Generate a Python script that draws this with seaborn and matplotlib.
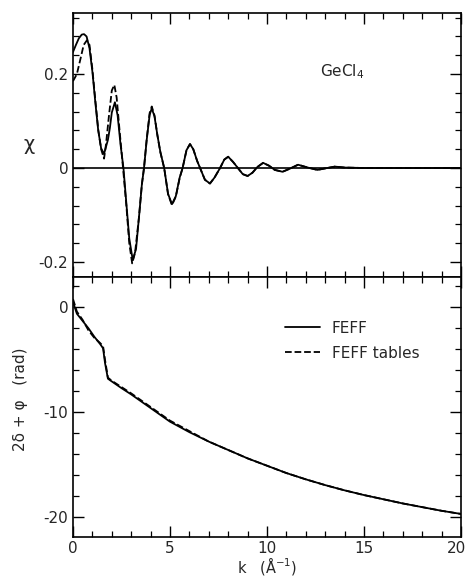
import numpy as np
import pandas as pd
import matplotlib
matplotlib.use("Agg")
import matplotlib.pyplot as plt
from matplotlib.ticker import MultipleLocator, FixedLocator, FixedFormatter
from matplotlib.transforms import ScaledTranslation
import seaborn as sns

k_chi_feff = [0.0, 0.15, 0.3, 0.45, 0.57, 0.7, 0.85, 1.0, 1.15, 1.3, 1.45, 1.6, 1.7, 1.8, 1.9, 2.0,
              2.16, 2.3, 2.45, 2.6, 2.75, 2.9, 3.08, 3.25, 3.4, 3.55, 3.66, 3.8, 3.95, 4.06, 4.2,
              4.35, 4.5, 4.7, 4.9, 5.1, 5.3, 5.5, 5.65, 5.85, 6.03, 6.2, 6.4, 6.55, 6.8, 7.06,
              7.3, 7.58, 7.8, 8.0, 8.25, 8.5, 8.75, 9.0, 9.25, 9.5, 9.8, 10.1, 10.4, 10.8, 11.2,
              11.6, 12.1, 12.6, 13.1, 13.5, 14.0, 15.0, 20.0]
chi_feff = [0.247, 0.262, 0.276, 0.284, 0.285, 0.28, 0.255, 0.205, 0.14, 0.08, 0.042, 0.03, 0.045,
            0.06, 0.085, 0.118, 0.14, 0.112, 0.05, 0.0, -0.075, -0.15, -0.196, -0.172, -0.105,
            -0.035, 0.0, 0.06, 0.113, 0.127, 0.11, 0.07, 0.035, 0.0, -0.055, -0.077, -0.06,
            -0.02, 0.0, 0.038, 0.051, 0.04, 0.015, 0.0, -0.025, -0.033, -0.02, 0.0, 0.018,
            0.024, 0.013, 0.0, -0.013, -0.017, -0.01, 0.002, 0.011, 0.005, -0.004, -0.008,
            -0.001, 0.007, 0.001, -0.004, 0.0, 0.003, 0.001, 0.0, 0.0]

k_chi_tab = [0.0, 0.2, 0.4, 0.55, 0.72, 0.85, 1.0, 1.15, 1.3, 1.45, 1.6, 1.7, 1.85, 2.0, 2.13,
             2.25, 2.4, 2.58, 2.75, 2.9, 3.05, 3.2, 3.4, 3.55, 3.66, 3.8, 3.95, 4.06, 4.2, 4.35,
             4.5, 4.7, 4.9, 5.1, 5.3, 5.5, 5.65, 5.85, 6.03, 6.2, 6.4, 6.55, 6.8, 7.06, 7.3,
             7.58, 7.8, 8.0, 8.25, 8.5, 8.75, 9.0, 9.25, 9.5, 9.8, 10.1, 10.4, 10.8, 11.2, 11.6,
             12.1, 12.6, 13.1, 13.5, 14.0, 15.0, 20.0]
chi_tab = [0.185, 0.2, 0.235, 0.262, 0.272, 0.262, 0.21, 0.145, 0.082, 0.04, 0.02, 0.05, 0.11,
           0.165, 0.177, 0.15, 0.08, 0.0, -0.08, -0.16, -0.203, -0.18, -0.105, -0.035, 0.0,
           0.062, 0.117, 0.131, 0.112, 0.07, 0.034, 0.0, -0.056, -0.079, -0.061, -0.021, 0.0,
           0.038, 0.051, 0.04, 0.015, 0.0, -0.025, -0.033, -0.02, 0.0, 0.018, 0.024, 0.013,
           0.0, -0.013, -0.017, -0.01, 0.002, 0.011, 0.005, -0.004, -0.008, -0.001, 0.007,
           0.001, -0.004, 0.0, 0.003, 0.001, 0.0, 0.0]

k_ph_feff = [0.0, 0.2, 0.5, 0.8, 1.1, 1.4, 1.55, 1.65, 1.8, 1.95, 2.5, 3.0, 4.0, 5.0, 6.0, 7.0,
             8.0, 9.0, 10.0, 11.0, 12.0, 13.0, 14.0, 15.0, 16.0, 17.0, 18.0, 19.0, 20.0]
ph_feff = [0.5, -0.6, -1.3, -2.0, -2.8, -3.5, -3.9, -5.3, -6.8, -7.0, -7.7, -8.3, -9.6, -10.9,
           -11.9, -12.8, -13.6, -14.4, -15.1, -15.8, -16.4, -16.95, -17.45, -17.9, -18.3,
           -18.7, -19.05, -19.4, -19.7]

k_ph_tab = [0.0, 0.2, 0.5, 0.8, 1.1, 1.4, 1.55, 1.65, 1.8, 2.0, 2.5, 3.0, 4.0, 5.0, 6.0, 7.0,
            8.0, 9.0, 10.0, 11.0, 12.0, 13.0, 14.0, 15.0, 16.0, 17.0, 18.0, 19.0, 20.0]
ph_tab = [0.8, -0.4, -1.2, -2.2, -2.9, -3.4, -3.7, -5.0, -6.7, -7.0, -7.6, -8.2, -9.5, -10.8,
          -11.8, -12.8, -13.6, -14.4, -15.1, -15.8, -16.4, -16.95, -17.45, -17.9, -18.3,
          -18.7, -19.05, -19.4, -19.7]

series_labels = ["FEFF", "FEFF tables"]
chi_ticks = [-0.2, 0.0, 0.2]
chi_ticklabels = ["-0.2", "0", "0.2"]
ph_ticks = [-20, -10, 0]
ph_ticklabels = ["-20", "-10", "0"]
k_ticks = [0, 5, 10, 15, 20]
k_ticklabels = ["0", "5", "10", "15", "20"]

# ---- style ----
sns.set_style("ticks")
plt.rcParams["font.family"] = ["DejaVu Sans"]
plt.rcParams["font.size"] = 11

fig = plt.figure(figsize=(4.68, 5.79), dpi=100)
W, H = 468, 579
left, right = 73 / W, 461 / W
ax1 = fig.add_axes([left, 1 - 277 / H, right - left, (277 - 13) / H])
ax2 = fig.add_axes([left, 1 - 537 / H, right - left, (537 - 277) / H])

lw = 1.3
dash = (5, 3)

# top panel
sns.lineplot(x=k_chi_feff, y=chi_feff, ax=ax1, color="black", lw=lw, sort=False)
sns.lineplot(x=k_chi_tab, y=chi_tab, ax=ax1, color="black", lw=lw, sort=False,
             linestyle="--", dashes=dash)
ax1.axhline(0, color="black", lw=1.2)
ax1.set_xlim(0, 20)
ax1.set_ylim(-0.232, 0.33)
ax1.yaxis.set_major_locator(FixedLocator(chi_ticks))
ax1.yaxis.set_major_formatter(FixedFormatter(chi_ticklabels))
ax1.yaxis.set_minor_locator(MultipleLocator(0.04))
ax1.xaxis.set_major_locator(FixedLocator(k_ticks))
ax1.xaxis.set_minor_locator(MultipleLocator(1))
ax1.tick_params(labelbottom=False)
ax1.set_ylabel("χ", fontsize=14, labelpad=7, rotation=0, va="center")
ax1.text(13.9, 0.205, "GeCl$_4$", ha="center", va="center", fontsize=11)

# bottom panel
sns.lineplot(x=k_ph_feff, y=ph_feff, ax=ax2, color="black", lw=lw, sort=False,
             label=series_labels[0])
sns.lineplot(x=k_ph_tab, y=ph_tab, ax=ax2, color="black", lw=lw, sort=False,
             linestyle="--", dashes=dash, label=series_labels[1])
ax2.set_xlim(0, 20)
ax2.set_ylim(-21.9, 2.9)
ax2.yaxis.set_major_locator(FixedLocator(ph_ticks))
ax2.yaxis.set_major_formatter(FixedFormatter(ph_ticklabels))
ax2.yaxis.set_minor_locator(MultipleLocator(2))
ax2.xaxis.set_major_locator(FixedLocator(k_ticks))
ax2.xaxis.set_major_formatter(FixedFormatter(k_ticklabels))
ax2.xaxis.set_minor_locator(MultipleLocator(1))
ax2.set_ylabel("2δ + φ   (rad)", fontsize=11, labelpad=5)
ax2.yaxis.set_label_coords(-0.115, 0.53)
ax2.set_xlabel("k   (Å$^{-1}$)", fontsize=10.5, labelpad=-1)
ax2.legend(loc="upper left", bbox_to_anchor=(0.51, 0.885), frameon=False,
           handlelength=2.3, handletextpad=0.8, labelspacing=0.65, fontsize=11)

for ax in (ax1, ax2):
    for s in ax.spines.values():
        s.set_visible(True)
        s.set_linewidth(1.2)
        s.set_color("black")
    ax.tick_params(which="both", direction="in", top=True, right=True, color="black")
    ax.tick_params(which="major", length=8, width=1.0)
    ax.tick_params(which="minor", length=4, width=0.9)

ax2.tick_params(axis="x", pad=3)
fig.canvas.draw()
last = ax2.get_xticklabels()[-1]
last.set_transform(last.get_transform() + ScaledTranslation(-5 / 100, 0, fig.dpi_scale_trans))

fig.savefig("out.png", dpi=100)
